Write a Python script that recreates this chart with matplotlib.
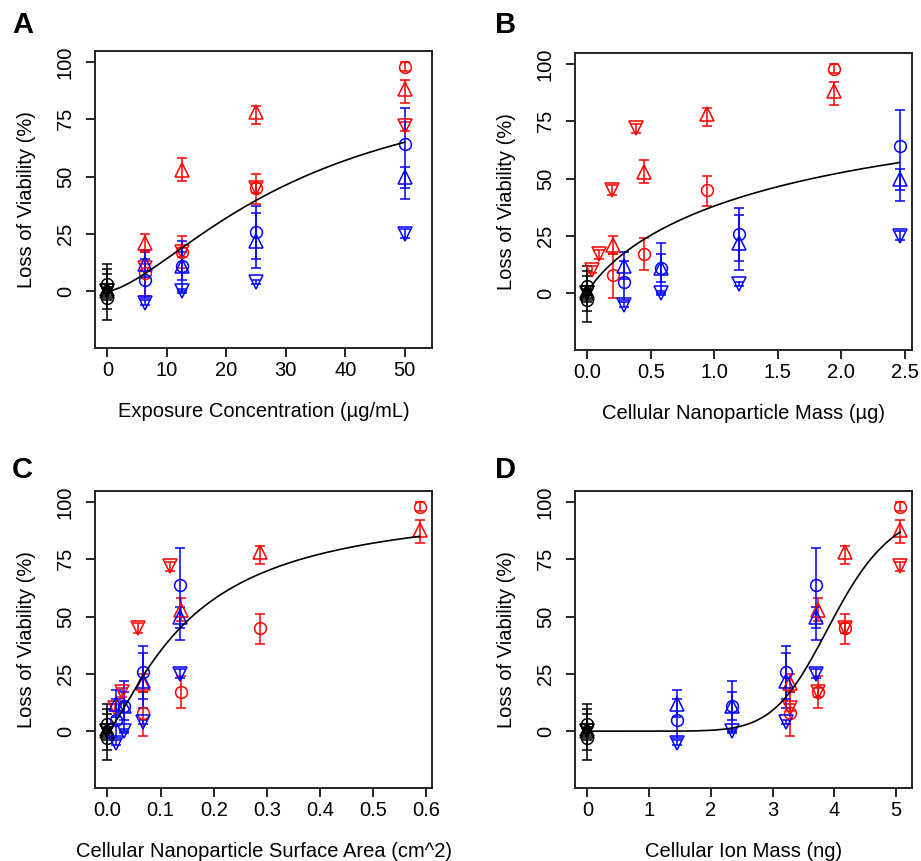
import numpy as np
import matplotlib
matplotlib.use('Agg')
import matplotlib.pyplot as plt

plt.rcParams['font.family'] = ['Liberation Sans', 'DejaVu Sans']

# x positions of the four doses, per panel and group
conc = [6.25, 12.5, 25, 50]
mass_red = [0.20, 0.445, 0.94, 1.94]
mass_red_down = [0.037, 0.09, 0.19, 0.385]
mass_blue = [0.285, 0.58, 1.195, 2.46]
area_red = [0.0665, 0.139, 0.288, 0.588]
area_red_down = [0.015, 0.028, 0.057, 0.118]
area_blue = [0.016, 0.032, 0.0665, 0.136]
ion_red = [3.28, 3.73, 4.18, 5.07]
ion_blue = [1.445, 2.34, 3.21, 3.71]

# loss of viability (%) with error bar ends
red_circ = [8, 17, 45, 98]
red_circ_lo = [-2, 10, 38, 96]
red_circ_hi = [17, 24, 51, 100]
red_up = [21, 53, 78, 88]
red_up_lo = [17, 48, 73, 82]
red_up_hi = [25, 58, 81, 92]
red_down = [10, 17, 45, 72]
red_down_lo = [9, 15, 43, 70]
red_down_hi = [12, 19, 47, 74]
blue_circ = [5, 11, 26, 64]
blue_circ_lo = [-3, 0, 14, 40]
blue_circ_hi = [14, 22, 37, 80]
blue_up = [12, 11, 22, 50]
blue_up_lo = [6, 5, 10, 45]
blue_up_hi = [18, 17, 34, 54]
blue_down = [-5, 0, 4, 25]
blue_down_lo = [-6, -1, 3, 23]
blue_down_hi = [-4, 1, 5, 27]

# untreated controls (x = 0)
ctrl_circ = [3, -3]
ctrl_circ_lo = [-4, -12.7]
ctrl_circ_hi = [9.5, 7.7]
ctrl_up = [0, 1]
ctrl_up_lo = [-8, 0]
ctrl_up_hi = [12, 2]
ctrl_down = [0, 0]
ctrl_down_lo = [-1, -1]
ctrl_down_hi = [1, 1]

# fitted Hill curves: (Emax, EC50, n, xmax)
fit_A = (100, 33.1, 1.5, 50)
fit_B = (100, 1.77, 0.856, 2.46)
fit_C = (100, 0.159, 1.327, 0.588)
fit_D = (100, 4.0, 8.0, 5.07)

fig = plt.figure(figsize=(9.21, 8.61), dpi=100)
W, H = 921, 861
FS = 14.5

panels = [
    ('A', 'Exposure Concentration (µg/mL)', (95, 348), (-2.1, 54.6),
     [0, 10, 20, 30, 40, 50], ['0', '10', '20', '30', '40', '50'],
     conc, conc, conc, fit_A),
    ('B', 'Cellular Nanoparticle Mass (µg)', (575, 350), (-0.098, 2.558),
     [0, 0.5, 1, 1.5, 2, 2.5], ['0.0', '0.5', '1.0', '1.5', '2.0', '2.5'],
     mass_red, mass_red_down, mass_blue, fit_B),
    ('C', 'Cellular Nanoparticle Surface Area (cm^2)', (95, 788), (-0.0235, 0.611),
     [0, 0.1, 0.2, 0.3, 0.4, 0.5, 0.6], ['0.0', '0.1', '0.2', '0.3', '0.4', '0.5', '0.6'],
     area_red, area_red_down, area_blue, fit_C),
    ('D', 'Cellular Ion Mass (ng)', (575, 788), (-0.202, 5.26),
     [0, 1, 2, 3, 4, 5], ['0', '1', '2', '3', '4', '5'],
     ion_red, ion_red, ion_blue, fit_D),
]


def bars(ax, x, y, lo, hi, color, marker, ms):
    y = np.array(y, dtype=float)
    ax.errorbar(x, y, yerr=[y - np.array(lo), np.array(hi) - y], fmt=marker,
                color=color, mfc='none', mec=color, ms=ms, mew=1.1,
                elinewidth=1.1, capsize=3.8, capthick=1.1, zorder=3)


for letter, xlabel, (left, bottom), xlim, xt, xtl, xr, xrd, xb, fit in panels:
    ax = fig.add_axes([left / W, 1 - bottom / H, 337 / W, 297 / H])
    zero = [0, 0]
    bars(ax, zero, ctrl_circ, ctrl_circ_lo, ctrl_circ_hi, 'black', 'o', 8.5)
    bars(ax, zero, ctrl_up, ctrl_up_lo, ctrl_up_hi, 'black', '^', 9.5)
    bars(ax, zero, ctrl_down, ctrl_down_lo, ctrl_down_hi, 'black', 'v', 9.5)
    bars(ax, xr, red_circ, red_circ_lo, red_circ_hi, 'red', 'o', 8.5)
    bars(ax, xr, red_up, red_up_lo, red_up_hi, 'red', '^', 9.5)
    bars(ax, xrd, red_down, red_down_lo, red_down_hi, 'red', 'v', 9.5)
    bars(ax, xb, blue_circ, blue_circ_lo, blue_circ_hi, 'blue', 'o', 8.5)
    bars(ax, xb, blue_up, blue_up_lo, blue_up_hi, 'blue', '^', 9.5)
    bars(ax, xb, blue_down, blue_down_lo, blue_down_hi, 'blue', 'v', 9.5)

    emax, ec50, n, xm = fit
    xx = np.linspace(0, xm, 300)
    ax.plot(xx, emax * xx ** n / (ec50 ** n + xx ** n), color='black', lw=1.2, zorder=4)

    ax.set_xlim(xlim)
    ax.set_ylim(-24.8, 104.8)
    ax.set_xticks(xt)
    ax.set_xticklabels(xtl)
    ax.set_yticks([0, 25, 50, 75, 100])
    ax.set_yticklabels(['0', '25', '50', '75', '100'], rotation=90, va='center')
    ax.tick_params(direction='out', length=6.5, width=1.2, labelsize=FS, pad=3)
    ax.tick_params(axis='y', pad=8)
    for s in ax.spines.values():
        s.set_linewidth(1.4)
        s.set_color('#222222')
    ax.set_xlabel(xlabel, fontsize=FS, labelpad=16)
    ax.set_ylabel('Loss of Viability (%)', fontsize=FS, labelpad=14)

    lx = 12 if left < 400 else 495
    ly = 33 if bottom < 400 else 478
    fig.text(lx / W, 1 - ly / H, letter, fontsize=21, fontweight='bold',
             ha='left', va='baseline')

fig.savefig('out.png', dpi=100)
